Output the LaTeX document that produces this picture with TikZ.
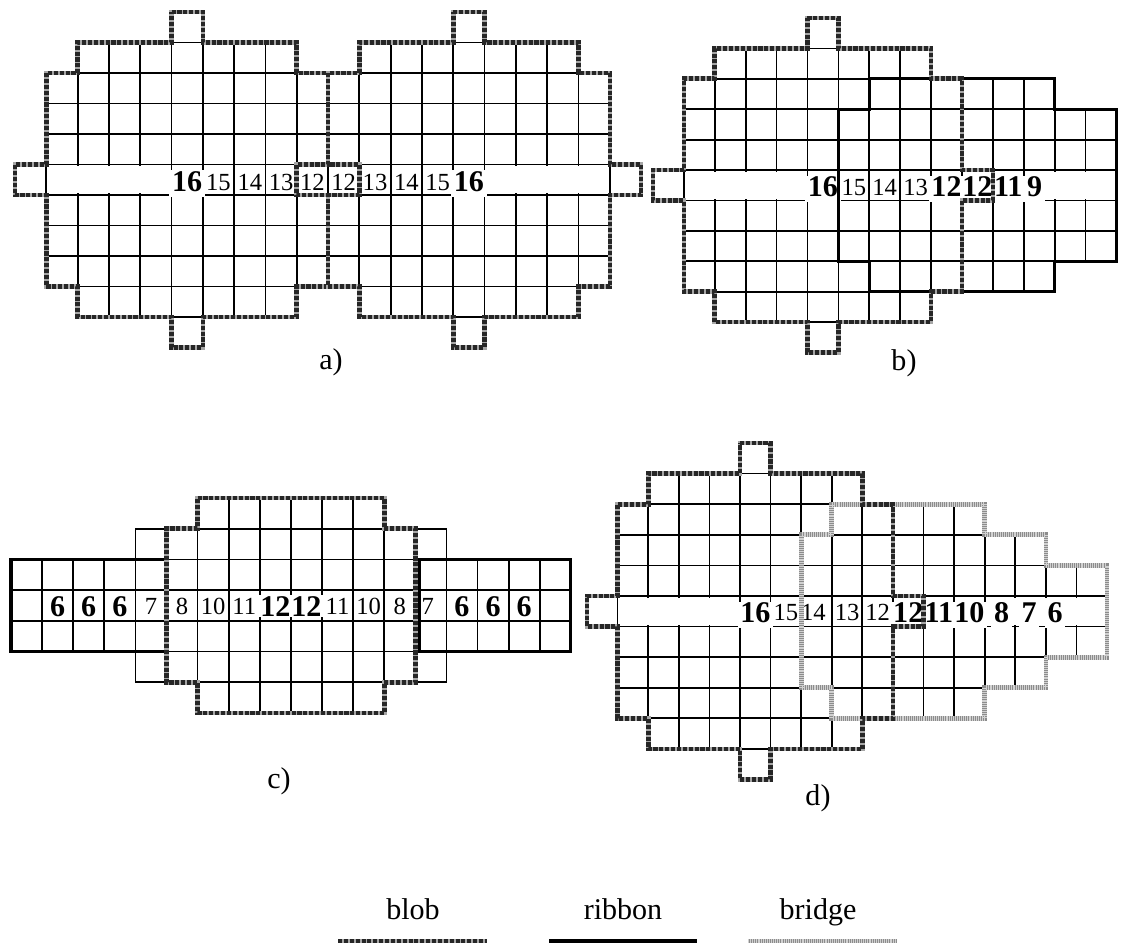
\documentclass[tikz,border=0pt]{standalone}
\usepackage{fontspec}
\setmainfont{Liberation Serif}
\usepackage{tikz}

\newcommand{\cellrow}[3]{\foreach \c in {#2,...,#3} \draw[gridline] (\c,#1) rectangle ++(1,1);}
\newcommand{\blobgrid}[1]{%
  \foreach \r/\a/\b in {0/5/5,1/2/8,2/1/9,3/1/9,4/1/9,5/0/10,6/1/9,7/1/9,8/1/9,9/2/8,10/5/5}{
    \pgfmathtruncatemacro{\aa}{\a+#1}
    \pgfmathtruncatemacro{\bb}{\b+#1}
    \cellrow{\r}{\aa}{\bb}}}
\newcommand{\blobedge}[1]{%
  \draw[blobline,shift={(#1,0)}] (5,0) -- (6,0) -- (6,1) -- (9,1) -- (9,2) -- (10,2) -- (10,5) -- (11,5)
    -- (11,6) -- (10,6) -- (10,9) -- (9,9) -- (9,10) -- (6,10) -- (6,11) -- (5,11) -- (5,10) -- (2,10)
    -- (2,9) -- (1,9) -- (1,6) -- (0,6) -- (0,5) -- (1,5) -- (1,2) -- (2,2) -- (2,1) -- (5,1) -- cycle;}

\begin{document}
\begin{tikzpicture}[
    x=0.7318pt, y=-0.7318pt,
    gridline/.style={line width=1.3pt},
    blobline/.style={draw=black!35, line width=3.4pt, line join=miter,
      postaction={draw=black!85, line width=3.4pt, dash pattern=on 3pt off 1.3pt}},
    ribbonline/.style={draw=black, line width=2.4pt},
    bridgeline/.style={draw=black!45, line width=3.4pt,
      postaction={draw=white, line width=3.4pt, dash pattern=on 0.5pt off 0.9pt, opacity=0.6}},
    num/.style={fill=white, inner sep=0.8pt, anchor=base, font=\fontsize{18}{18}\selectfont},
    bignum/.style={fill=white, inner xsep=2pt, inner ysep=1pt, text depth=0.3em, anchor=base,
      font=\fontsize{22}{22}\selectfont\bfseries},
    bigc/.style={fill=white, inner sep=0.8pt, anchor=base, font=\fontsize{22}{22}\selectfont\bfseries},
    tag/.style={anchor=base, inner sep=0pt, font=\fontsize{22}{22}\selectfont}
]
\useasboundingbox (0,0) rectangle (1121,943);

% a)
\begin{scope}[shift={(15,12)}, x=22.91pt, y=-22.32pt]
  \blobgrid{0}
  \blobgrid{9}
  \fill[white] (1.06,5.06) rectangle (4.94,5.94);
  \fill[white] (15.06,5.06) rectangle (18.94,5.94);
  \node[bignum] (a16l) at (5.5,5.88) {16};
  \node[num] (a15l) at (6.5,5.85) {15};
  \node[num] (a14l) at (7.5,5.85) {14};
  \node[num] (a13l) at (8.5,5.85) {13};
  \node[num] (a12l) at (9.5,5.85) {12};
  \node[num] (a12r) at (10.5,5.85) {12};
  \node[num] (a13r) at (11.5,5.85) {13};
  \node[num] (a14r) at (12.5,5.85) {14};
  \node[num] (a15r) at (13.5,5.85) {15};
  \node[bignum] (a16r) at (14.5,5.88) {16};
  \blobedge{0}
  \blobedge{9}
\end{scope}
\node[tag] (taga) at (331,369) {a)};

% b)
\begin{scope}[shift={(653,18)}, x=22.61pt, y=-22.25pt]
  \blobgrid{0}
  \foreach \r in {2,...,8} \cellrow{\r}{10}{12}
  \foreach \r in {3,...,7} \cellrow{\r}{13}{14}
  \fill[white] (1.06,5.06) rectangle (4.94,5.94);
  \fill[white] (12.95,5.06) rectangle (14.94,5.94);
  \node[bignum] (b16) at (5.5,5.88) {16};
  \node[num] (b15) at (6.5,5.85) {15};
  \node[num] (b14) at (7.5,5.85) {14};
  \node[num] (b13) at (8.5,5.85) {13};
  \node[bignum] (b12l) at (9.5,5.88) {12};
  \node[bignum] (b12r) at (10.5,5.88) {12};
  \node[bignum] (b11) at (11.5,5.88) {11};
  \node[bignum] (b9) at (12.35,5.88) {9};
  \draw[ribbonline] (6,3) -- (7,3) -- (7,2) -- (13,2) -- (13,3) -- (15,3) -- (15,8) -- (13,8)
    -- (13,9) -- (7,9) -- (7,8) -- (6,8) -- cycle;
  \blobedge{0}
\end{scope}
\node[tag] (tagb) at (904,370) {b)};

% c)
\begin{scope}[shift={(11,498)}, x=22.76pt, y=-22.47pt]
  \foreach \r/\a/\b in {0/6/11,1/4/13,2/0/17,3/0/17,4/0/17,5/4/13,6/6/11} \cellrow{\r}{\a}{\b}
  \node[bigc] (c6a) at (1.5,3.85) {6};
  \node[bigc] (c6b) at (2.5,3.85) {6};
  \node[bigc] (c6c) at (3.5,3.85) {6};
  \node[num] (c7l) at (4.5,3.8) {7};
  \node[num] (c8l) at (5.5,3.8) {8};
  \node[num] (c10l) at (6.5,3.8) {10};
  \node[num] (c11l) at (7.5,3.8) {11};
  \node[bigc] (c12l) at (8.5,3.85) {12};
  \node[bigc] (c12r) at (9.5,3.85) {12};
  \node[num] (c11r) at (10.5,3.8) {11};
  \node[num] (c10r) at (11.5,3.8) {10};
  \node[num] (c8r) at (12.5,3.8) {8};
  \node[num] (c7r) at (13.4,3.8) {7};
  \node[bigc] (c6d) at (14.5,3.85) {6};
  \node[bigc] (c6e) at (15.5,3.85) {6};
  \node[bigc] (c6f) at (16.5,3.85) {6};
  \draw[ribbonline] (0,2) rectangle (5,5);
  \draw[ribbonline] (13.12,2) rectangle (18,5);
  \draw[blobline] (6,0) -- (12,0) -- (12,1) -- (13,1) -- (13,6) -- (12,6) -- (12,7) -- (6,7) -- (6,6)
    -- (5,6) -- (5,1) -- (6,1) -- cycle;
\end{scope}
\node[tag] (tagc) at (279,788) {c)};

% d)
\begin{scope}[shift={(587,443)}, x=22.39pt, y=-22.39pt]
  \blobgrid{0}
  \foreach \r in {2,...,8} \cellrow{\r}{8}{12}
  \foreach \r in {3,...,7} \cellrow{\r}{13}{14}
  \foreach \r in {4,...,6} \cellrow{\r}{15}{16}
  \fill[white] (1.06,5.06) rectangle (4.94,5.94);
  \fill[white] (13.05,5.06) rectangle (16.94,5.94);
  \node[bignum] (d16) at (5.5,5.88) {16};
  \node[num] (d15) at (6.5,5.8) {15};
  \node[num] (d14) at (7.4,5.8) {14};
  \node[num] (d13) at (8.5,5.8) {13};
  \node[num] (d12s) at (9.5,5.8) {12};
  \node[bignum] (d12) at (10.5,5.88) {12};
  \node[bignum] (d11) at (11.5,5.88) {11};
  \node[bignum] (d10) at (12.5,5.88) {10};
  \node[bignum] (d8) at (13.55,5.88) {8};
  \node[bignum] (d7) at (14.45,5.88) {7};
  \node[bignum] (d6) at (15.3,5.88) {6};
  \draw[bridgeline] (8,2) -- (13,2) -- (13,3) -- (15,3) -- (15,4) -- (17,4) -- (17,7) -- (15,7) -- (15,8)
    -- (13,8) -- (13,9) -- (8,9) -- (8,8) -- (7,8) -- (7,3) -- (8,3) -- cycle;
  \blobedge{0}
\end{scope}
\node[tag] (tagd) at (818,805) {d)};

% legend
\node[tag] (lblob) at (413,919) {blob};
\node[tag] (lribbon) at (623,919) {ribbon};
\node[tag] (lbridge) at (818,919) {bridge};
\draw[blobline] (338,941) -- (487,941);
\draw[ribbonline] (549,941) -- (697,941);
\draw[bridgeline] (748,941) -- (897,941);
\end{tikzpicture}
\end{document}
